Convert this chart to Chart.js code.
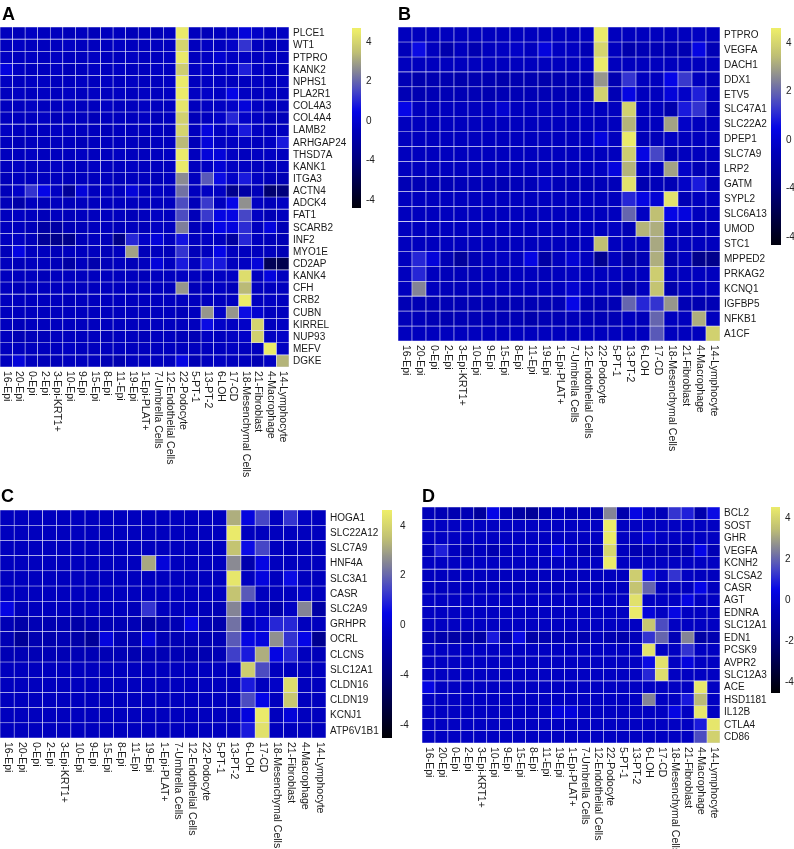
<!DOCTYPE html>
<html><head><meta charset="utf-8">
<script src="https://cdn.jsdelivr.net/npm/chart.js@4.4.0/dist/chart.umd.min.js"></script>
<style>
html,body{margin:0;padding:0;background:#fff;}
#wrap{position:relative;width:794px;height:849px;overflow:hidden;}
canvas{position:absolute;left:0;top:0;}
</style></head><body><div id="wrap">
<canvas id="cA" width="794" height="849"></canvas>
<canvas id="cB" width="794" height="849"></canvas>
<canvas id="cC" width="794" height="849"></canvas>
<canvas id="cD" width="794" height="849"></canvas>
</div>
<script>
const cellTypes = ['16-Epi','20-Epi','0-Epi','2-Epi','3-Epi-KRT1+','10-Epi','9-Epi','15-Epi','8-Epi','11-Epi','19-Epi','1-Epi-PLAT+','7-Umbrella Cells','12-Endothelial Cells','22-Podocyte','5-PT-1','13-PT-2','6-LOH','17-CD','18-Mesenchymal Cells','21-Fibroblast','4-Macrophage','14-Lymphocyte'];

const genesA = ['PLCE1','WT1','PTPRO','KANK2','NPHS1','PLA2R1','COL4A3','COL4A4','LAMB2','ARHGAP24','THSD7A','KANK1','ITGA3','ACTN4','ADCK4','FAT1','SCARB2','INF2','MYO1E','CD2AP','KANK4','CFH','CRB2','CUBN','KIRREL','NUP93','MEFV','DGKE'];
const valuesA = [
[-0.4,-0.5,-0.3,-0.4,-0.4,-0.5,-0.4,-0.5,-0.4,-0.4,-0.5,-0.4,-0.5,-0.4,4.5,-0.4,-0.5,-0.4,-0.3,0.2,-0.2,-0.4,-0.3],
[-0.4,-0.3,-0.4,-0.4,-0.4,-0.3,-0.4,-0.4,-0.4,-0.3,-0.4,-0.4,-0.4,-0.4,4.0,-0.4,-0.3,-0.4,-0.2,1.2,-0.4,-0.5,-0.4],
[-0.3,-0.4,-0.3,-0.4,-0.3,-0.4,-0.4,-0.3,-0.4,-0.4,-0.3,-0.4,-0.4,-0.3,4.5,-0.4,-0.3,0.0,-0.3,-0.3,-0.4,-0.3,-0.4],
[0.3,-0.3,-0.4,-0.4,-0.3,-0.5,-0.4,-0.3,-0.4,-0.3,-0.4,-0.4,-0.3,-0.4,3.8,-0.3,-0.2,-0.3,-0.2,0.9,-0.3,-0.4,-0.4],
[-0.3,-0.4,-0.3,-0.3,-0.4,-0.4,-0.3,-0.4,-0.3,-0.4,-0.3,-0.4,-0.4,-0.3,4.5,-0.4,-0.3,-0.3,-0.4,-0.4,-0.3,-0.4,-0.3],
[-0.4,-0.3,-0.4,-0.3,-0.4,-0.3,-0.4,-0.3,-0.4,-0.3,-0.4,-0.3,-0.4,-0.3,4.5,-0.3,-0.2,-0.3,0.5,-0.3,-0.4,-0.3,-0.4],
[-0.4,-0.4,-0.3,-0.4,-0.4,-0.3,-0.4,-0.4,-0.3,-0.4,-0.4,-0.3,-0.4,-0.4,4.4,-0.4,-0.3,-0.3,-0.2,0.2,-0.3,-0.4,-0.4],
[-0.4,-0.4,-0.4,-0.3,-0.5,-0.4,-0.4,-0.5,-0.4,-0.4,-0.4,-0.3,-0.5,-0.4,3.9,-0.5,-0.4,-0.2,1.0,-0.2,-0.3,-0.5,-0.5],
[-0.3,-0.4,-0.4,-0.4,-0.3,-0.4,-0.4,-0.4,-0.5,-0.4,-0.4,-0.4,-0.4,-0.5,4.0,-0.4,0.3,-0.3,-0.2,0.8,-0.3,-0.4,-0.4],
[-0.4,-0.5,-0.4,-0.4,-0.4,-0.4,-0.5,-0.4,-0.4,-0.4,-0.4,-0.5,-0.4,-0.4,3.4,-0.5,0.2,-0.3,-0.3,-0.3,-0.4,-0.3,0.8],
[-0.4,-0.4,-0.3,-0.4,-0.4,-0.4,-0.3,-0.4,-0.4,-0.3,-0.4,-0.4,-0.4,-0.3,4.5,-0.4,0.2,0.2,-0.3,-0.4,-0.3,-0.3,-0.4],
[-0.4,-0.3,-0.4,-0.4,-0.3,-0.4,-0.4,-0.3,-0.4,-0.4,-0.3,-0.4,-0.4,-0.4,4.5,-0.4,-0.3,0.1,-0.3,-0.3,-0.4,-0.4,-0.4],
[-0.5,-0.4,-0.4,-0.4,-0.4,-0.5,-0.4,-0.4,-0.4,-0.5,-0.4,-0.4,-0.5,-0.4,2.6,-0.4,1.8,0.6,-0.2,0.8,-0.3,-0.5,-0.6],
[-0.5,-0.2,1.2,0.5,-0.3,-1.3,0.2,-0.4,-0.3,-0.4,0.2,-0.4,-0.3,-0.4,2.2,-0.4,-0.3,-0.3,-1.6,-1.0,-0.5,-2.3,-2.0],
[-0.5,-0.9,-0.4,-0.5,-0.4,-0.5,-0.4,-0.4,-0.4,-0.4,-0.4,-0.4,-0.4,-0.4,1.6,-0.5,1.3,-0.4,0.5,2.7,-0.3,-0.5,-0.3],
[-0.4,-0.3,-0.4,-0.5,-0.4,-0.5,-0.4,-0.4,-0.4,-0.4,-0.5,-0.4,-0.3,-0.4,1.6,-0.5,1.3,0.4,0.4,1.5,-0.3,-0.6,-0.4],
[-0.4,-0.4,-0.5,-1.0,-1.0,-0.6,-0.5,-0.4,-0.4,-0.5,-0.4,-0.5,-0.3,-0.4,2.4,-0.5,-0.3,0.5,0.3,1.1,-0.4,0.3,-0.6],
[-0.4,-0.3,-0.5,-1.3,-1.6,-1.6,-0.5,-0.4,-0.5,-1.7,1.0,-0.2,0.2,-0.4,0.7,-0.4,-0.3,-0.4,-1.1,1.0,-0.4,-0.5,-0.6],
[-0.5,0.4,-0.4,-0.4,-0.5,-0.4,-0.4,-0.4,-0.5,-0.4,3.0,-0.5,-0.4,-0.5,1.2,-0.5,-0.4,0.5,-0.4,-0.4,-0.4,-0.4,-0.6],
[-0.4,-0.5,-0.4,-0.4,-0.5,-1.0,-0.4,-0.8,-0.5,-0.4,-0.5,-0.4,0.2,-0.4,0.8,-0.4,0.8,0.8,-0.4,-0.3,0.2,-2.8,-3.0],
[-0.4,-0.4,-0.4,-0.5,-0.4,-0.4,-0.4,-0.4,-0.4,-0.4,-0.4,-0.5,-0.4,-0.4,-0.3,-0.4,-0.4,-0.3,-0.3,4.2,-0.4,0.3,-0.4],
[-0.4,-0.5,-0.4,-0.4,-0.4,-0.4,-0.4,-0.4,-0.4,-0.4,-0.4,-0.4,-0.4,-0.5,2.8,-0.5,-0.4,-0.3,-0.5,3.4,-0.4,-0.4,-0.4],
[-0.4,-0.4,-0.4,-0.4,-0.4,-0.5,-0.4,-0.4,-0.4,-0.4,-0.4,-0.4,-0.4,-0.4,-0.4,-0.4,-0.4,-0.4,-0.4,4.5,-0.4,-0.3,-0.4],
[-0.4,-0.4,-0.4,-0.4,-0.4,-0.4,-0.4,-0.4,-0.4,-0.4,-0.4,-0.4,-0.4,-0.4,-0.5,-0.4,2.8,-0.2,2.8,0.6,0.0,-0.4,-0.4],
[-0.4,-0.5,-0.4,-0.4,-0.4,-0.4,-0.4,-0.4,-0.4,-0.4,-0.4,-0.4,-0.4,-0.4,-0.4,-0.4,0.6,-0.2,-0.3,-0.2,4.0,-0.4,-0.3],
[-0.4,-0.6,-0.5,-0.5,-0.4,-0.4,-0.4,-0.4,-0.5,-0.4,-0.4,-0.5,-0.4,-0.4,-0.5,-0.6,-0.3,-0.4,-0.3,-0.2,3.9,-0.3,-0.2],
[-0.4,-0.4,-0.4,-0.4,-0.4,-0.3,-0.4,-0.4,-0.4,-0.4,-0.4,-0.4,-0.4,-0.4,-0.4,-0.4,-0.4,-0.4,-0.3,-0.4,-0.4,4.5,-0.3],
[-0.4,0.2,-0.4,-0.5,-0.5,-0.4,-0.4,-0.4,-0.6,-0.7,-0.4,-0.4,-0.4,-0.4,0.4,-0.6,-0.4,-0.3,-0.4,-0.4,-0.6,-0.3,3.3]
];

const genesB = ['PTPRO','VEGFA','DACH1','DDX1','ETV5','SLC47A1','SLC22A2','DPEP1','SLC7A9','LRP2','GATM','SYPL2','SLC6A13','UMOD','STC1','MPPED2','PRKAG2','KCNQ1','IGFBP5','NFKB1','A1CF'];
const valuesB = [
[-0.4,-0.4,-0.4,-0.4,-0.4,-0.4,-0.4,-0.4,-0.4,-0.4,-0.4,-0.4,-0.4,-0.4,4.5,-0.4,-0.4,-0.4,-0.4,-0.4,-0.4,-0.3,-0.4],
[-0.5,0.6,-0.4,-0.8,-0.4,-0.7,-0.4,-0.3,-0.2,-0.4,0.3,-0.3,-0.3,-0.6,4.0,-0.4,-0.8,-0.6,-0.6,-0.6,-0.7,0.4,-0.6],
[-0.4,-0.4,-0.4,-0.4,-0.4,-0.4,-0.4,-0.4,-0.4,-0.4,-0.4,-0.4,-0.4,-0.4,4.5,-0.4,-0.4,-0.4,-0.4,-0.4,-0.4,-0.4,-0.4],
[-0.6,-0.8,-0.7,-0.7,-0.8,-0.7,-0.7,-0.8,-0.7,-0.7,-0.8,-0.7,-0.6,-0.7,2.8,-0.7,1.2,-0.4,-0.4,0.5,1.3,-0.4,-0.5],
[-0.6,-0.7,-0.6,-0.6,-0.6,-0.6,-0.7,-0.6,-0.6,-0.6,-0.6,-0.6,-0.6,-0.6,3.9,-0.6,0.4,-0.4,-0.4,0.2,-0.2,0.9,-0.4],
[0.5,-0.4,-0.4,-0.4,-0.4,-0.4,-0.4,0.0,-0.4,-0.4,-0.4,-0.4,-0.4,-0.4,-0.4,-0.4,3.9,-0.4,-0.4,-0.8,0.8,1.2,-0.5],
[-0.4,-0.4,-0.4,-0.4,-0.4,-0.4,-0.4,-0.4,-0.4,-0.4,-0.4,-0.4,-0.4,-0.4,-0.4,-0.4,3.3,-0.4,-0.4,3.0,-0.2,-0.4,-0.4],
[-0.4,-0.4,-0.4,-0.4,-0.4,-0.4,-0.4,-0.4,-0.4,-0.4,-0.4,-0.4,-0.4,-0.4,0.3,-0.4,4.5,-0.5,-0.5,-0.3,-0.4,-0.4,-0.4],
[-0.4,-0.4,-0.4,-0.4,-0.4,-0.4,-0.4,-0.4,-0.4,-0.4,-0.4,-0.4,-0.4,-0.4,-0.4,-0.4,3.8,0.4,1.5,-0.6,-0.4,-0.4,-0.4],
[-0.4,-0.4,-0.4,-0.4,-0.4,-0.4,-0.4,-0.4,-0.4,-0.4,-0.4,-0.4,-0.4,-0.4,-0.3,0.3,3.3,-0.4,-0.4,3.0,-0.2,-0.6,-0.5],
[-0.6,-0.6,-0.5,-0.6,-0.5,-0.5,-0.5,-0.6,-0.5,-0.5,-0.2,-0.5,-0.5,-0.6,-0.5,-0.5,4.3,-0.7,-0.5,-0.6,-0.2,0.8,-0.5],
[-0.4,-0.4,-0.4,-0.4,-0.4,-0.4,-0.4,-0.4,-0.4,-0.4,-0.4,-0.4,-0.4,-0.4,-0.4,-0.4,1.0,0.4,0.1,4.3,-0.6,-0.4,-0.4],
[-0.4,-0.4,-0.4,-0.4,-0.4,-0.4,-0.4,-0.4,-0.4,-0.4,-0.4,-0.4,-0.4,-0.4,-0.4,-0.4,2.0,-0.3,3.5,0.5,0.3,-0.4,-0.4],
[-0.4,-0.4,-0.4,-0.4,-0.4,-0.4,-0.4,-0.4,-0.4,-0.4,-0.4,-0.4,-0.4,-0.4,-0.4,-0.3,-0.6,3.3,3.2,-0.4,-0.5,-0.5,-0.5],
[-0.4,-0.4,-0.4,-0.4,-0.4,-0.4,-0.4,-0.4,-0.4,-0.4,-0.4,-0.4,-0.4,-0.4,3.5,-0.4,-0.4,-0.4,3.1,-0.4,-0.4,-0.4,-0.4],
[-0.4,1.0,0.2,-0.6,-1.2,-0.6,-0.4,-0.3,-0.4,0.4,-1.0,-0.4,0.1,-0.4,-1.5,-0.4,-1.0,-0.6,3.2,-0.8,-0.4,-1.6,-1.6],
[-0.4,1.0,-0.4,-0.5,-0.5,-0.5,-0.4,-0.5,-0.4,-0.4,-0.5,-0.4,-0.3,-0.4,-0.4,-0.4,-0.4,-0.4,3.8,-0.4,-0.4,-0.4,-0.4],
[-0.4,2.5,-0.4,-0.5,-0.5,-0.5,-0.4,-0.4,-0.4,-0.4,-0.4,-0.4,0.0,-0.4,-0.4,-0.4,-0.9,-0.4,3.6,-0.8,-0.4,-0.4,-0.4],
[-0.6,-0.6,-0.6,-0.6,-0.6,-0.6,-0.6,-0.6,-0.6,-0.6,-0.6,-0.6,0.5,-0.6,-0.6,-0.6,2.0,1.0,1.2,2.8,-0.6,-0.7,-0.6],
[-0.5,-0.5,-0.6,-0.7,-0.6,-0.6,-0.6,-0.6,-0.6,-0.8,-0.6,-0.6,-0.5,-0.6,-0.6,-0.6,-0.4,-0.5,2.0,-0.4,-0.4,3.2,-0.4],
[-0.4,-0.4,-0.4,-0.4,-0.4,-0.4,-0.4,-0.4,-0.4,-0.4,-0.4,-0.4,-0.4,-0.4,-0.4,-0.4,-0.4,-0.4,1.8,-0.4,-0.4,-0.4,3.9]
];

const genesC = ['HOGA1','SLC22A12','SLC7A9','HNF4A','SLC3A1','CASR','SLC2A9','GRHPR','OCRL','CLCNS','SLC12A1','CLDN16','CLDN19','KCNJ1','ATP6V1B1'];
const valuesC = [
[-0.4,-0.4,-0.4,-0.4,-0.4,-0.4,-0.4,-0.4,-0.4,-0.4,-0.4,-0.4,-0.4,-0.4,-0.4,-0.4,3.2,0.3,1.5,-0.4,1.2,-0.3,-0.4],
[-0.4,-0.4,-0.4,-0.4,-0.4,-0.4,-0.4,-0.4,-0.4,-0.4,-0.4,-0.4,-0.4,-0.4,-0.4,-0.4,4.5,-0.4,-0.4,-0.4,-0.4,-0.4,-0.4],
[-0.4,-0.4,-0.4,-0.4,-0.4,-0.4,-0.4,-0.4,-0.4,-0.4,-0.4,-0.4,-0.4,-0.4,-0.4,-0.4,3.6,0.6,1.5,-0.4,-0.4,-0.4,-0.4],
[-0.4,-0.4,-0.4,-0.4,-0.4,-0.4,-0.4,-0.4,-0.4,-0.4,3.1,0.2,-0.4,-0.4,-0.4,-0.4,2.6,-0.8,0.4,-0.4,-0.4,-0.4,-0.4],
[-0.4,-0.4,-0.4,-0.4,-0.4,-0.4,-0.4,-0.4,-0.4,-0.4,-0.4,-0.4,-0.4,-0.4,-0.4,-0.4,4.4,-0.4,0.3,-0.4,0.6,-0.4,-0.4],
[-0.4,-0.4,-0.4,-0.4,-0.4,-0.4,-0.4,-0.4,-0.4,-0.4,-0.4,-0.4,-0.4,-0.4,-0.4,-0.4,3.6,1.8,-0.4,-0.4,-0.4,-0.2,-0.4],
[0.4,-0.5,-0.4,-0.4,-0.4,-0.5,-0.4,-0.4,-0.4,-0.5,1.2,-0.4,-0.4,-0.4,-0.5,-0.6,2.5,-0.2,-0.4,-0.8,-0.3,2.5,-1.0],
[-0.6,-0.9,-0.6,-0.7,-0.6,-0.9,-0.6,-0.6,-0.6,-0.6,-1.0,-0.7,-0.6,0.5,-0.6,-0.8,2.2,-0.5,0.0,1.0,1.0,-0.4,-0.4],
[-0.6,-1.3,-0.7,-0.8,-0.6,-0.9,-1.3,0.3,-0.6,-0.6,0.3,-0.6,-0.6,-0.6,-0.6,-0.6,1.8,0.4,0.3,2.7,1.2,0.5,-1.5],
[-0.6,-0.6,-0.6,-0.6,-0.6,-0.6,-0.6,-0.6,-0.6,-0.7,-0.6,-0.6,-0.6,-0.7,-0.7,-0.6,1.4,0.8,3.2,0.4,1.0,-0.4,-0.5],
[-0.4,-0.4,-0.4,-0.4,-0.4,-0.4,-0.4,-0.4,-0.4,-0.4,-0.4,-0.4,-0.4,-0.4,-0.4,-0.4,-0.4,3.8,1.6,-0.4,-0.4,-0.4,-0.4],
[-0.4,-0.4,-0.4,-0.4,-0.4,-0.4,-0.4,-0.4,-0.4,-0.4,-0.4,-0.4,-0.4,-0.4,-0.4,-0.4,-0.4,0.8,-0.4,-0.2,4.2,-0.4,-0.4],
[-0.4,-0.4,-0.4,-0.4,-0.4,-0.4,-0.4,-0.4,-0.4,-0.4,-0.4,-0.4,-0.4,-0.4,-0.4,-0.4,-0.4,1.6,0.5,-0.4,3.7,-0.4,-0.4],
[-0.4,-0.4,-0.4,-0.4,-0.4,-0.4,-0.4,-0.4,-0.4,-0.4,-0.4,-0.4,-0.4,-0.4,-0.4,-0.4,-0.4,0.3,4.5,-0.4,0.2,-0.4,-0.4],
[-0.4,-0.4,-0.4,-0.4,-0.4,-0.4,-0.4,-0.4,-0.4,-0.4,-0.4,-0.4,-0.4,-0.4,-0.4,-0.4,-0.4,0.8,4.3,-0.4,-0.4,-0.4,-0.4]
];

const genesD = ['BCL2','SOST','GHR','VEGFA','KCNH2','SLCSA2','CASR','AGT','EDNRA','SLC12A1','EDN1','PCSK9','AVPR2','SLC12A3','ACE','HSD1181','IL12B','CTLA4','CD86'];
const valuesD = [
[-0.5,-0.6,-0.7,-0.6,-1.2,0.5,-0.5,-1.0,-1.3,-0.6,-0.4,-0.6,-0.5,-0.6,2.5,-0.8,0.4,-0.3,-0.5,1.2,0.9,-0.8,0.6],
[-0.3,-0.3,-0.3,-0.3,-0.3,-0.3,-0.3,-0.3,-0.3,-0.3,-0.3,-0.3,-0.3,-0.3,4.5,-0.3,-0.3,-0.3,-0.3,-0.3,-0.3,-0.3,-0.3],
[-0.3,-0.3,-0.3,-0.3,-0.3,-0.3,-0.3,-0.3,-0.3,-0.3,-0.3,-0.3,-0.3,-0.3,4.5,-0.3,-0.3,0.2,-0.3,-0.3,-0.3,-0.3,-0.3],
[-0.5,0.9,-0.4,-0.7,-0.4,-0.7,-0.4,-0.3,-0.2,-0.4,0.4,-0.3,-0.6,-0.6,4.0,-0.4,-0.7,-0.6,-0.6,-0.6,-0.7,0.5,-0.6],
[-0.3,-0.3,-0.3,-0.3,-0.3,-0.3,-0.3,-0.3,-0.3,-0.3,-0.3,-0.3,-0.3,-0.3,4.5,-0.3,-0.3,-0.3,-0.3,-0.3,-0.3,-0.3,-0.3],
[-0.4,-0.4,-0.4,-0.4,-0.4,-0.4,-0.4,-0.4,-0.4,-0.4,-0.4,-0.4,-0.4,-0.4,-0.4,-0.4,3.8,0.6,-0.3,1.2,-0.3,-0.4,-0.4],
[-0.4,-0.4,-0.4,-0.4,-0.4,-0.4,-0.4,-0.4,-0.4,-0.4,-0.4,-0.4,-0.4,-0.4,-0.4,-0.4,3.6,2.0,-0.4,-0.4,-0.4,0.5,-0.4],
[-0.3,-0.3,-0.3,-0.3,-0.3,-0.3,-0.3,-0.3,-0.3,-0.3,-0.3,-0.3,-0.3,-0.3,-0.3,-0.3,4.3,-0.3,-0.3,-0.3,0.4,-0.3,-0.3],
[-0.3,-0.3,-0.3,-0.3,-0.3,-0.3,-0.3,-0.3,-0.3,-0.3,-0.3,-0.3,-0.3,-0.3,-0.3,-0.3,4.5,0.2,-0.3,0.4,-0.3,-0.3,-0.3],
[-0.3,-0.3,-0.3,-0.3,-0.3,-0.3,-0.3,-0.3,-0.3,-0.3,-0.3,-0.3,-0.3,-0.3,-0.3,-0.3,-0.3,3.7,1.6,-0.3,-0.3,-0.3,-0.3],
[-0.6,-0.8,-1.0,-0.8,-1.0,0.8,-0.8,0.6,-0.9,-0.7,-0.6,-0.6,-0.7,-0.4,-0.7,-0.8,-0.5,1.2,2.0,-0.6,2.5,-1.0,-0.7],
[-0.3,-0.3,-0.3,-0.3,-0.3,-0.3,-0.3,-0.3,-0.3,-0.3,-0.3,-0.3,-0.3,-0.3,-0.3,-0.3,-0.3,4.3,-0.3,-0.3,1.2,-0.3,-0.3],
[-0.3,-0.3,-0.3,-0.3,-0.3,-0.3,-0.3,-0.3,-0.3,-0.3,-0.3,-0.3,-0.3,-0.3,-0.3,-0.3,-0.3,0.6,4.3,-0.3,0.3,-0.3,-0.3],
[-0.3,-0.3,-0.3,-0.3,-0.3,-0.3,-0.3,-0.3,-0.3,-0.3,-0.3,-0.3,-0.3,-0.3,-0.3,-0.3,-0.3,1.0,4.2,-0.3,-0.3,-0.3,-0.3],
[0.4,-0.3,-0.3,-0.3,-0.3,-0.3,-0.3,-0.3,-0.3,-0.3,-0.3,-0.3,-0.3,-0.3,-0.3,-0.3,-0.3,-0.3,-0.3,-0.3,-0.3,4.4,-0.3],
[-0.3,-0.3,-0.3,-0.3,-0.3,-0.3,-0.3,-0.3,-0.3,-0.3,-0.3,-0.3,-0.3,-0.3,-0.3,-0.3,-0.3,2.5,-0.3,-0.3,0.8,3.4,-0.3],
[-0.3,-0.3,-0.3,-0.3,-0.3,-0.3,-0.3,-0.3,-0.3,-0.3,0.3,0.3,-0.3,-0.3,-0.3,-0.3,-0.3,-0.3,-0.3,0.4,-0.3,4.4,-0.3],
[-0.3,-0.3,-0.3,-0.3,-0.3,-0.3,-0.3,-0.3,-0.3,-0.3,-0.3,-0.3,-0.3,-0.3,-0.3,-0.3,-0.3,-0.3,-0.3,-0.3,-0.3,0.8,4.4],
[-0.3,-0.3,-0.3,-0.3,-0.3,-0.3,-0.3,-0.3,-0.3,-0.3,-0.3,-0.3,-0.3,-0.3,-0.3,-0.3,-0.3,-0.3,-0.3,-0.3,-0.3,1.6,3.9]
];

const colorbarValues = [4, 2, 0, -2, -4];
const colorbarLabelsA = ['4','2','0','-4','-4'];
const colorbarLabelsB = ['4','2','0','-4','-4'];
const colorbarLabelsC = ['4','2','0','-4','-4'];
const colorbarLabelsD = ['4','2','0','-2','-4'];

// colour ramp: black -> blue -> grey -> yellow
const colorStops = [
  [-4.6, [0,0,0]],
  [-2.0, [0,0,125]],
  [-0.5, [0,0,185]],
  [0.5, [5,5,230]],
  [1.5, [70,70,198]],
  [2.5, [132,132,150]],
  [3.5, [192,192,115]],
  [4.6, [238,238,105]]
];
function colorFor(v) {
  if (v <= colorStops[0][0]) return 'rgb(0,0,0)';
  for (let i = 1; i < colorStops.length; i++) {
    const [v1, c1] = colorStops[i];
    const [v0, c0] = colorStops[i-1];
    if (v <= v1) {
      const t = (v - v0) / (v1 - v0);
      const c = c0.map((x, k) => Math.round(x + (c1[k] - x) * t));
      return `rgb(${c[0]},${c[1]},${c[2]})`;
    }
  }
  const c = colorStops[colorStops.length-1][1];
  return `rgb(${c[0]},${c[1]},${c[2]})`;
}

const FONT = '"Liberation Sans", Arial, Helvetica, sans-serif';

function makeHeatmap(id, genes, values, cfg) {
  const overlay = {
    id: 'overlay_' + id,
    afterDraw(chart) {
      const ctx = chart.ctx;
      const xs = chart.scales.x, ys = chart.scales.y;
      const area = chart.chartArea;
      ctx.save();
      ctx.fillStyle = '#1a1a1a';
      ctx.font = '10px ' + FONT;
      ctx.textAlign = 'left';
      ctx.textBaseline = 'middle';
      genes.forEach((g, r) => {
        ctx.fillText(g, area.right + 4, ys.getPixelForValue(r + 0.5) + 0.5);
      });
      ctx.font = '10.5px ' + FONT;
      cellTypes.forEach((c, i) => {
        const x = xs.getPixelForValue(i);
        ctx.save();
        ctx.translate(x + 0.5, area.bottom + 4);
        ctx.rotate(Math.PI / 2);
        ctx.textAlign = 'left';
        ctx.textBaseline = 'middle';
        ctx.fillText(c, 0, 0);
        ctx.restore();
      });
      const cb = cfg.cbar;
      const yOf = v => cb.y0 - cb.k * v;
      const vTop = (cb.y0 - cb.top) / cb.k;
      const vBot = (cb.y0 - cb.bottom) / cb.k;
      const grad = ctx.createLinearGradient(0, cb.top, 0, cb.bottom);
      const n = 60;
      for (let i = 0; i <= n; i++) {
        const v = vTop + (vBot - vTop) * i / n;
        grad.addColorStop(i / n, colorFor(v));
      }
      ctx.fillStyle = grad;
      ctx.fillRect(cb.x, cb.top, cb.w, cb.bottom - cb.top);
      ctx.fillStyle = '#222';
      ctx.font = '10px ' + FONT;
      ctx.textAlign = 'left';
      ctx.textBaseline = 'middle';
      colorbarValues.forEach((v, i) => {
        ctx.fillText(cfg.cbLabels[i], cb.x + cb.w + cb.gap, yOf(v));
      });
      ctx.fillStyle = '#000';
      ctx.font = 'bold 18px ' + FONT;
      ctx.textAlign = 'left';
      ctx.textBaseline = 'alphabetic';
      ctx.fillText(cfg.letter, cfg.lx, cfg.ly);
      ctx.restore();
    }
  };
  const a = cfg.area;
  return new Chart(document.getElementById(id), {
    type: 'bar',
    data: {
      labels: cellTypes,
      datasets: genes.map((g, r) => ({
        label: g,
        data: values[r].map(() => [r, r + 1]),
        backgroundColor: values[r].map(colorFor),
        borderColor: 'rgba(225,225,248,0.95)',
        borderWidth: 0.6,
        borderSkipped: false,
        grouped: false,
        barPercentage: 1,
        categoryPercentage: 1
      }))
    },
    options: {
      responsive: false,
      animation: false,
      events: [],
      devicePixelRatio: 1,
      layout: { padding: { left: a.l, top: a.t, right: 794 - a.r, bottom: 849 - a.b } },
      plugins: { legend: { display: false }, tooltip: { enabled: false } },
      scales: {
        x: { type: 'category', display: false, offset: true },
        y: { type: 'linear', display: false, min: 0, max: genes.length, reverse: true }
      }
    },
    plugins: [overlay]
  });
}

makeHeatmap('cA', genesA, valuesA, {
  area: { l: 0, t: 27, r: 289, b: 367 },
  cbar: { x: 352, w: 9, top: 28, bottom: 208, y0: 121, k: 19.75, gap: 5 },
  cbLabels: colorbarLabelsA, letter: 'A', lx: 2, ly: 20
});
makeHeatmap('cB', genesB, valuesB, {
  area: { l: 398, t: 27, r: 720, b: 341 },
  cbar: { x: 771, w: 10, top: 28, bottom: 245, y0: 140, k: 24.25, gap: 5 },
  cbLabels: colorbarLabelsB, letter: 'B', lx: 398, ly: 20
});
makeHeatmap('cC', genesC, valuesC, {
  area: { l: 0, t: 510, r: 326, b: 738 },
  cbar: { x: 382, w: 10, top: 510, bottom: 738, y0: 625.5, k: 24.9, gap: 8 },
  cbLabels: colorbarLabelsC, letter: 'C', lx: 1, ly: 502
});
makeHeatmap('cD', genesD, valuesD, {
  area: { l: 422, t: 507, r: 720, b: 743 },
  cbar: { x: 771, w: 9, top: 507, bottom: 693, y0: 600, k: 20.5, gap: 5 },
  cbLabels: colorbarLabelsD, letter: 'D', lx: 422, ly: 502
});
</script>
</body></html>
